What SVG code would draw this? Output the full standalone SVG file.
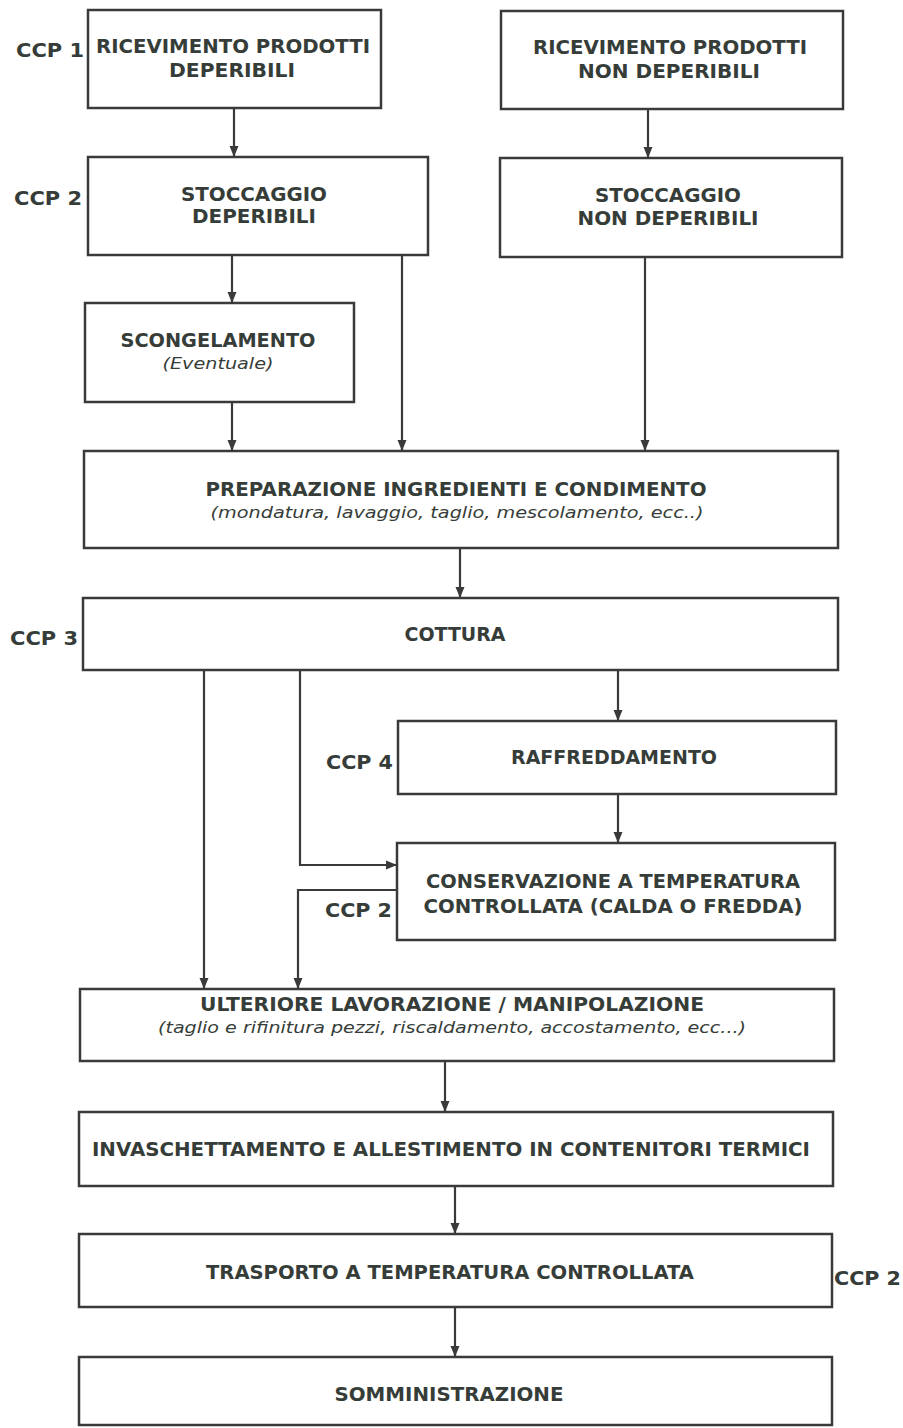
<svg xmlns="http://www.w3.org/2000/svg" width="903" height="1428" viewBox="0 0 903 1428">
  <style>
    .box { fill: #ffffff; stroke: #3a3a3a; stroke-width: 2.5; }
    .t { font-family: "DejaVu Sans", Verdana, sans-serif; font-weight: bold; font-size: 19px; fill: #363d39; text-anchor: middle; }
    .ti { font-family: "DejaVu Sans", Verdana, sans-serif; font-style: italic; font-size: 16.5px; fill: #363d39; text-anchor: middle; }
    .ccp { font-family: "DejaVu Sans", Verdana, sans-serif; font-weight: bold; font-size: 19px; fill: #363d39; }
    .link { fill: none; stroke: #3a3a3a; stroke-width: 2.2; }
  </style>
  <defs>
    <marker id="arrow" markerUnits="userSpaceOnUse" markerWidth="12" markerHeight="12" viewBox="0 0 12 12" refX="11" refY="6" orient="auto">
      <path d="M0,1.5 L11,6 L0,10.5 Z" fill="#3a3a3a"/>
    </marker>
  </defs>
  <rect width="903" height="1428" fill="#ffffff"/>

  <!-- connectors -->
  <g id="connectors">
    <path class="link" d="M234,108 V157" marker-end="url(#arrow)"/>
    <path class="link" d="M648,109 V158" marker-end="url(#arrow)"/>
    <path class="link" d="M232,255 V303" marker-end="url(#arrow)"/>
    <path class="link" d="M402,255 V451" marker-end="url(#arrow)"/>
    <path class="link" d="M645,257 V451" marker-end="url(#arrow)"/>
    <path class="link" d="M232,402 V451" marker-end="url(#arrow)"/>
    <path class="link" d="M460,548 V598" marker-end="url(#arrow)"/>
    <path class="link" d="M204,670 V989" marker-end="url(#arrow)"/>
    <path class="link" d="M300,670 V865 H397" marker-end="url(#arrow)"/>
    <path class="link" d="M618,670 V721" marker-end="url(#arrow)"/>
    <path class="link" d="M618,794 V843" marker-end="url(#arrow)"/>
    <path class="link" d="M397,890 H298 V989" marker-end="url(#arrow)"/>
    <path class="link" d="M445,1061 V1112" marker-end="url(#arrow)"/>
    <path class="link" d="M455,1186 V1234" marker-end="url(#arrow)"/>
    <path class="link" d="M455,1307 V1357" marker-end="url(#arrow)"/>
  </g>

  <!-- process steps -->
  <g id="ricevimento-deperibili">
    <rect class="box" x="88" y="10" width="293" height="98"/>
    <text class="t" x="233" y="53" textLength="274" lengthAdjust="spacingAndGlyphs">RICEVIMENTO PRODOTTI</text>
    <text class="t" x="232" y="77" textLength="126" lengthAdjust="spacingAndGlyphs">DEPERIBILI</text>
  </g>
  <g id="ricevimento-non-deperibili">
    <rect class="box" x="501" y="11" width="342" height="98"/>
    <text class="t" x="670" y="54" textLength="274" lengthAdjust="spacingAndGlyphs">RICEVIMENTO PRODOTTI</text>
    <text class="t" x="669" y="78" textLength="182" lengthAdjust="spacingAndGlyphs">NON DEPERIBILI</text>
  </g>
  <g id="stoccaggio-deperibili">
    <rect class="box" x="88" y="157" width="340" height="98"/>
    <text class="t" x="254" y="201" textLength="146" lengthAdjust="spacingAndGlyphs">STOCCAGGIO</text>
    <text class="t" x="254" y="223" textLength="124" lengthAdjust="spacingAndGlyphs">DEPERIBILI</text>
  </g>
  <g id="stoccaggio-non-deperibili">
    <rect class="box" x="500" y="158" width="342" height="99"/>
    <text class="t" x="668" y="202" textLength="146" lengthAdjust="spacingAndGlyphs">STOCCAGGIO</text>
    <text class="t" x="668" y="225" textLength="181" lengthAdjust="spacingAndGlyphs">NON DEPERIBILI</text>
  </g>
  <g id="scongelamento">
    <rect class="box" x="85" y="303" width="269" height="99"/>
    <text class="t" x="218" y="347" textLength="195" lengthAdjust="spacingAndGlyphs">SCONGELAMENTO</text>
    <text class="ti" x="218" y="369" textLength="111" lengthAdjust="spacingAndGlyphs">(Eventuale)</text>
  </g>
  <g id="preparazione">
    <rect class="box" x="84" y="451" width="754" height="97"/>
    <text class="t" x="456" y="496" textLength="501" lengthAdjust="spacingAndGlyphs">PREPARAZIONE INGREDIENTI E CONDIMENTO</text>
    <text class="ti" x="457" y="518" textLength="493" lengthAdjust="spacingAndGlyphs">(mondatura, lavaggio, taglio, mescolamento, ecc..)</text>
  </g>
  <g id="cottura">
    <rect class="box" x="83" y="598" width="755" height="72"/>
    <text class="t" x="455" y="641" textLength="101" lengthAdjust="spacingAndGlyphs">COTTURA</text>
  </g>
  <g id="raffreddamento">
    <rect class="box" x="398" y="721" width="438" height="73"/>
    <text class="t" x="614" y="764" textLength="206" lengthAdjust="spacingAndGlyphs">RAFFREDDAMENTO</text>
  </g>
  <g id="conservazione">
    <rect class="box" x="397" y="843" width="438" height="97"/>
    <text class="t" x="613" y="888" textLength="374" lengthAdjust="spacingAndGlyphs">CONSERVAZIONE A TEMPERATURA</text>
    <text class="t" x="613" y="913" textLength="379" lengthAdjust="spacingAndGlyphs">CONTROLLATA (CALDA O FREDDA)</text>
  </g>
  <g id="ulteriore-lavorazione">
    <rect class="box" x="80" y="989" width="754" height="72"/>
    <text class="t" x="452" y="1011" textLength="504" lengthAdjust="spacingAndGlyphs">ULTERIORE LAVORAZIONE / MANIPOLAZIONE</text>
    <text class="ti" x="452" y="1033" textLength="588" lengthAdjust="spacingAndGlyphs">(taglio e rifinitura pezzi, riscaldamento, accostamento, ecc...)</text>
  </g>
  <g id="invaschettamento">
    <rect class="box" x="79" y="1112" width="754" height="74"/>
    <text class="t" x="451" y="1156" textLength="718" lengthAdjust="spacingAndGlyphs">INVASCHETTAMENTO E ALLESTIMENTO IN CONTENITORI TERMICI</text>
  </g>
  <g id="trasporto">
    <rect class="box" x="79" y="1234" width="753" height="73"/>
    <text class="t" x="450" y="1279" textLength="488" lengthAdjust="spacingAndGlyphs">TRASPORTO A TEMPERATURA CONTROLLATA</text>
  </g>
  <g id="somministrazione">
    <rect class="box" x="79" y="1357" width="753" height="68"/>
    <text class="t" x="449" y="1401" textLength="229" lengthAdjust="spacingAndGlyphs">SOMMINISTRAZIONE</text>
  </g>

  <!-- critical control points -->
  <g id="ccp-labels">
    <text class="ccp" x="16" y="57" textLength="68" lengthAdjust="spacingAndGlyphs">CCP 1</text>
    <text class="ccp" x="14" y="205" textLength="68" lengthAdjust="spacingAndGlyphs">CCP 2</text>
    <text class="ccp" x="10" y="645" textLength="68" lengthAdjust="spacingAndGlyphs">CCP 3</text>
    <text class="ccp" x="326" y="769" textLength="67" lengthAdjust="spacingAndGlyphs">CCP 4</text>
    <text class="ccp" x="325" y="917" textLength="67" lengthAdjust="spacingAndGlyphs">CCP 2</text>
    <text class="ccp" x="834" y="1285" textLength="67" lengthAdjust="spacingAndGlyphs">CCP 2</text>
  </g>
</svg>
